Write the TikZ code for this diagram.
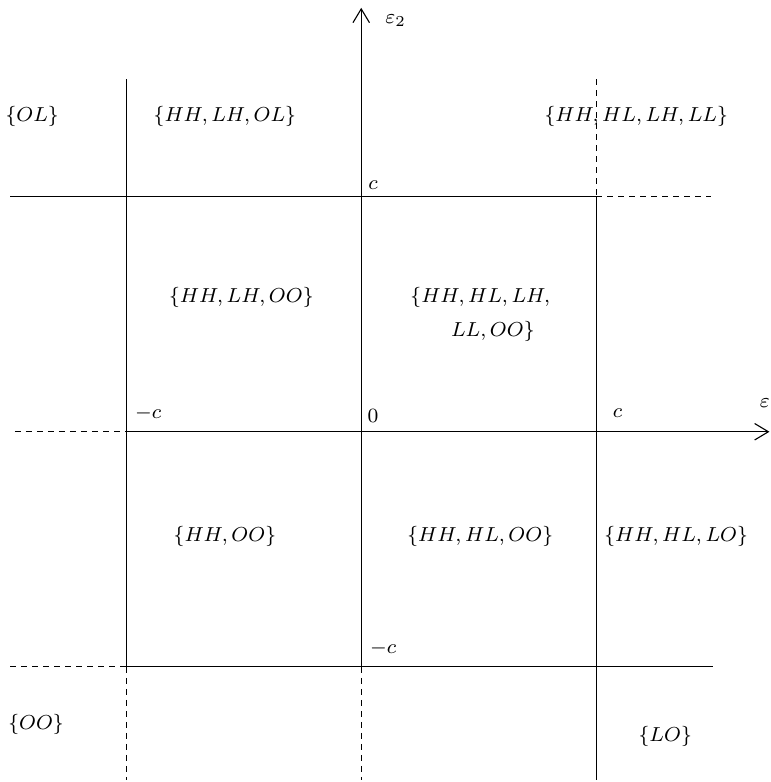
\documentclass[tikz,border=0pt]{standalone}
\usepackage{amsmath, amssymb}
\usepackage{tikz}
\usetikzlibrary{arrows.meta}

\begin{document}
\begin{tikzpicture}[
        lab/.style={font=\footnotesize, inner sep=1pt, scale=0.92, transform shape},
        dsh/.style={dash pattern=on 2.2pt off 1.8pt},
        arr/.style={-{Straight Barb[length=5pt, width=6pt]}},
      ]
        \useasboundingbox (-4.61,-4.47) rectangle (5.22,5.51);

        % grid lines
        \coordinate (vl) at (-3,4.5);   \coordinate (vlb) at (-3,-3);
        \coordinate (vr) at (3,4.5);    \coordinate (vrc) at (3,3);
        \coordinate (ht) at (-4.48,3);  \coordinate (htr) at (4.46,3);
        \coordinate (hb) at (-4.48,-3); \coordinate (hbr) at (4.49,-3);
        \draw (vl)--(vlb);
        \draw[dsh] (vlb)--(-3,-4.44);
        \draw[dsh] (vr)--(vrc);
        \draw (vrc)--(3,-4.44);
        \draw (ht)--(vrc);
        \draw[dsh] (vrc)--(htr);
        \draw[dsh] (hb)--(vlb);
        \draw (vlb)--(hbr);

        % axes
        \coordinate (top) at (0,5.41);
        \coordinate (rgt) at (5.21,0);
        \draw[arr] (0,-3)--(top);
        \draw[dsh] (0,-3)--(0,-4.44);
        \draw[arr] (-3,0)--(rgt);
        \draw[dsh] (-4.42,0)--(-3,0);
        \node[lab, anchor=west] (e2) at (0.27,5.25) {$\varepsilon_2$};
        \node[lab, anchor=west] (e1) at (5.05,0.35) {$\varepsilon_1$};

        % ticks
        \node[lab] (ct)  at (0.15,3.15)  {$c$};
        \node[lab] (cl)  at (-2.72,0.24) {$-c$};
        \node[lab] (z)   at (0.15,0.2)   {$0$};
        \node[lab] (cr)  at (3.27,0.24)  {$c$};
        \node[lab] (cb)  at (0.28,-2.76) {$-c$};

        % regions
        \node[lab] (ol)   at (-4.2,4.02)  {$\{OL\}$};
        \node[lab] (hlo)  at (-1.74,4.02) {$\{HH,LH,OL\}$};
        \node[lab] (hall) at (3.51,4.02)  {$\{HH,HL,LH,LL\}$};
        \node[lab] (hoo)  at (-1.53,1.72) {$\{HH,LH,OO\}$};
        \node[lab, align=left, anchor=west] (mid) at (0.59,1.5)
              {$\{HH,HL,LH,$\\[4pt]\hspace*{16pt}$LL,OO\}$};
        \node[lab] (hh)   at (-1.74,-1.34) {$\{HH,OO\}$};
        \node[lab] (hhl)  at (1.52,-1.34)  {$\{HH,HL,OO\}$};
        \node[lab] (hlo2) at (4.02,-1.34)  {$\{HH,HL,LO\}$};
        \node[lab] (oo)   at (-4.15,-3.74) {$\{OO\}$};
        \node[lab] (lo)   at (3.88,-3.89)  {$\{LO\}$};
      \end{tikzpicture}
\end{document}
